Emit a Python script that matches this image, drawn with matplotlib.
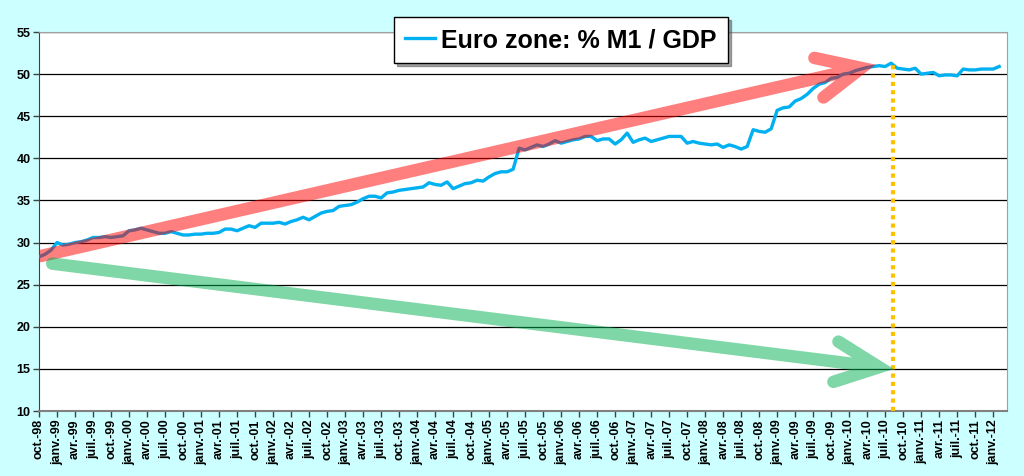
import matplotlib
matplotlib.use("Agg")
import matplotlib.pyplot as plt
import numpy as np

plt.rcParams['font.family'] = ['Liberation Sans', 'DejaVu Sans']

# monthly series, oct-98 .. feb-12
m1_gdp = [
    28.3, 28.6, 29.1, 30.0, 29.7, 29.8, 30.0, 30.1, 30.3, 30.6,
    30.6, 30.7, 30.6, 30.7, 30.8, 31.4, 31.5, 31.7, 31.5, 31.3,
    31.1, 31.1, 31.3, 31.1, 30.9, 30.9, 31.0, 31.0, 31.1, 31.1,
    31.2, 31.6, 31.6, 31.4, 31.7, 32.0, 31.8, 32.3, 32.3, 32.3,
    32.4, 32.2, 32.5, 32.7, 33.0, 32.7, 33.1, 33.5, 33.7, 33.8,
    34.3, 34.4, 34.5, 34.8, 35.2, 35.5, 35.5, 35.3, 35.9, 36.0,
    36.2, 36.3, 36.4, 36.5, 36.6, 37.1, 36.9, 36.8, 37.2, 36.4,
    36.7, 37.0, 37.1, 37.4, 37.3, 37.8, 38.2, 38.4, 38.4, 38.7,
    41.2, 41.0, 41.3, 41.6, 41.4, 41.7, 42.1, 41.8, 42.0, 42.2,
    42.3, 42.6, 42.6, 42.1, 42.3, 42.3, 41.7, 42.2, 43.0, 41.9,
    42.2, 42.4, 42.0, 42.2, 42.4, 42.6, 42.6, 42.6, 41.8, 42.0,
    41.8, 41.7, 41.6, 41.7, 41.3, 41.6, 41.4, 41.1, 41.4, 43.4,
    43.2, 43.1, 43.5, 45.7, 46.0, 46.1, 46.8, 47.1, 47.6, 48.3,
    48.8, 49.0, 49.5, 49.6, 50.0, 50.1, 50.4, 50.6, 50.8, 50.9,
    51.0, 50.9, 51.3, 50.7, 50.6, 50.5, 50.7, 50.0, 50.1, 50.2,
    49.8, 49.9, 49.9, 49.8, 50.6, 50.5, 50.5, 50.6, 50.6, 50.6,
    50.9,
]

months = ['janv.', 'avr.', 'juil.', 'oct.']
tick_labels = []
for year in range(1998, 2013):
    for k, m in enumerate(months):
        idx = (year - 1998) * 12 + k * 3 - 9
        if 0 <= idx <= 159:
            tick_labels.append(f"{m}-{year % 100:02d}")
tick_pos = list(range(0, 3 * len(tick_labels), 3))

# annotation arrows (month index, value) - end is the outer tip
red_start, red_end = (0.3, 28.4), (139.3, 51.1)
green_start, green_end = (2.2, 27.5), (142.3, 15.0)
marker_month = 142.3


def draw_arrow(ax, start, end, color):
    # one Line2D so the translucent stroke does not darken where it overlaps
    p0 = ax.transData.transform(start)
    tip = ax.transData.transform(end)
    back = (p0 - tip) / np.hypot(*(p0 - tip))
    p1 = tip + back * 14          # vertex, the miter reaches out to the tip
    shaft_end = p1 + back * 14
    barbs = []
    for a in (np.radians(25), np.radians(-25)):
        rot = np.array([[np.cos(a), -np.sin(a)], [np.sin(a), np.cos(a)]])
        barbs.append(p1 + rot @ back * 48)
    pts = np.array([p0, shaft_end, [np.nan, np.nan], barbs[0], p1, barbs[1]])
    xy = ax.transData.inverted().transform(pts)
    ax.plot(xy[:, 0], xy[:, 1], color=color, alpha=0.5, lw=9,
            solid_capstyle='round', solid_joinstyle='miter', zorder=5)


fig = plt.figure(figsize=(10.24, 4.76), dpi=100, facecolor='#CCFFFF')
ax = fig.add_axes([39 / 1024, 1 - 411 / 476, 968 / 1024, 379 / 476])
ax.set_facecolor('white')

ax.plot(range(len(m1_gdp)), m1_gdp, color='#00B0F0', lw=2.4,
        label='Euro zone: % M1 / GDP', zorder=3)

ax.set_ylim(10, 55)
ax.set_xlim(0, 161.3)
ax.set_yticks(range(10, 56, 5))
ax.set_xticks(tick_pos)
ax.set_xticklabels(tick_labels, rotation=90, fontsize=9, fontweight='bold')
for t in ax.get_yticklabels():
    t.set_fontweight('bold')
    t.set_fontsize(9)
ax.tick_params(axis='both', length=4, width=1, color='#404040', pad=2)
ax.yaxis.grid(True, color='black', lw=0.9)
ax.set_axisbelow(True)
for s in ['top', 'right']:
    ax.spines[s].set_color('#A0A0A0')
ax.spines['left'].set_color('#404040')
ax.spines['bottom'].set_color('#808080')
ax.spines['bottom'].set_linewidth(1.5)

ax.vlines(marker_month, 10, 51.6, colors='#FFC000', linestyles=(0, (1, 1)),
          lw=3, zorder=4)

draw_arrow(ax, red_start, red_end, '#FF0000')
draw_arrow(ax, green_start, green_end, '#00B050')
ax.set_xlim(0, 161.3)
ax.set_ylim(10, 55)

leg = ax.legend(loc='center', bbox_to_anchor=(561 / 1024, 1 - 40 / 476),
                bbox_transform=fig.transFigure, frameon=True, shadow=True,
                fancybox=False, handlelength=1.2, handletextpad=0.25,
                borderpad=0.45, prop={'weight': 'bold', 'size': 18})
leg.get_frame().set_edgecolor('black')
leg.get_frame().set_linewidth(1)

fig.savefig('out.png', dpi=100, facecolor=fig.get_facecolor())
